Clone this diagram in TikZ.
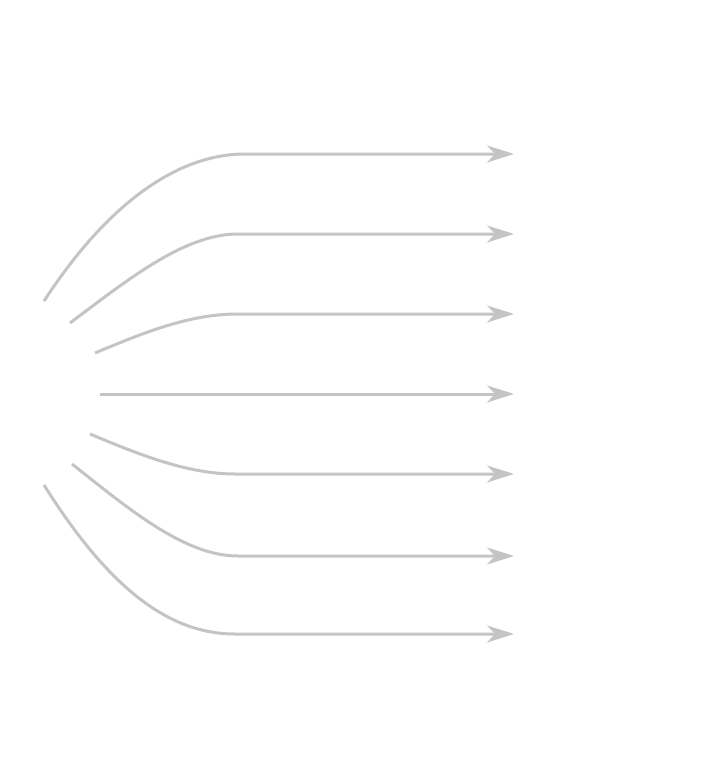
\documentclass[tikz,border=0pt]{standalone}
\usetikzlibrary{arrows.meta}
\definecolor{flow}{HTML}{C4C4C4}
\begin{document}
\begin{tikzpicture}[x=1pt,y=-1pt,
  flowline/.style={draw=flow,line width=3pt,-{Stealth[length=27pt,width=17pt,inset=8pt]}}]
\useasboundingbox (0,0) rectangle (720,784);
% start points
\coordinate (s1) at (44,301);
\coordinate (s2) at (70,323);
\coordinate (s3) at (95,353);
\coordinate (s4) at (100,394);
\coordinate (s5) at (90,434);
\coordinate (s6) at (72,464);
\coordinate (s7) at (44,485);
% bend points
\coordinate (b1) at (245,154);
\coordinate (b2) at (238,234);
\coordinate (b3) at (238,314);
\coordinate (b5) at (235,474);
\coordinate (b6) at (238,556);
\coordinate (b7) at (235,634);
% end points
\coordinate (e1) at (514,154);
\coordinate (e2) at (514,234);
\coordinate (e3) at (514,314);
\coordinate (e4) at (514,394);
\coordinate (e5) at (514,474);
\coordinate (e6) at (514,556);
\coordinate (e7) at (514,634);
\draw[flowline] (s1) .. controls (110,200) and (180,154) .. (b1) -- (e1);
\draw[flowline] (s2) .. controls (130,278) and (185,234) .. (b2) -- (e2);
\draw[flowline] (s3) .. controls (145,332) and (190,314) .. (b3) -- (e3);
\draw[flowline] (s4) -- (e4);
\draw[flowline] (s5) .. controls (140,455) and (188,474) .. (b5) -- (e5);
\draw[flowline] (s6) .. controls (130,510) and (185,556) .. (b6) -- (e6);
\draw[flowline] (s7) .. controls (110,590) and (170,634) .. (b7) -- (e7);
\end{tikzpicture}
\end{document}
